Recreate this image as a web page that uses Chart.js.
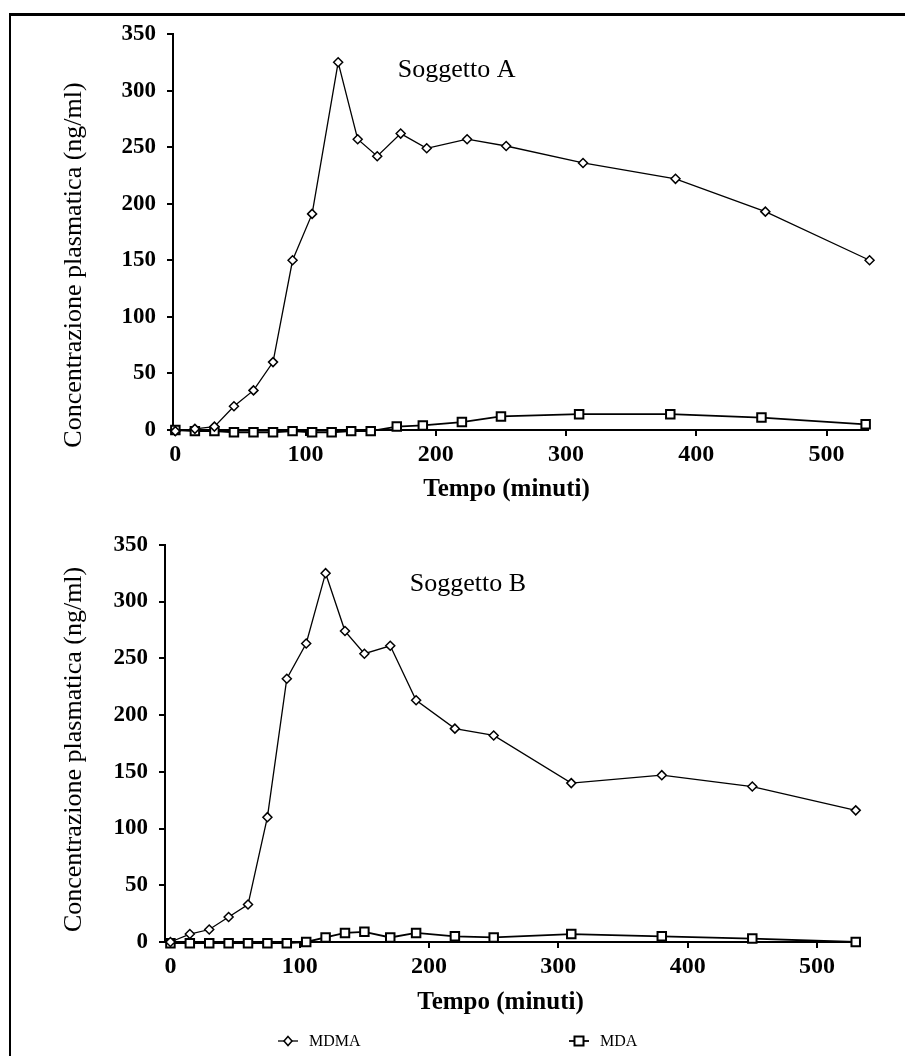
<!DOCTYPE html>
<html>
<head>
<meta charset="utf-8">
<title>Concentrazione plasmatica MDMA / MDA</title>
<script src="https://cdn.jsdelivr.net/npm/chart.js@4.4.1/dist/chart.umd.min.js"></script>
<style>
  body { margin: 0; background: #fff; }
  #wrap { position: relative; width: 905px; height: 1056px; overflow: hidden; background: #fff; }
  #frame { position: absolute; left: 9px; top: 13px; width: 1000px; height: 1100px;
           border-top: 3px solid #000; border-left: 2px solid #000; }
  canvas { position: absolute; left: 0; }
  #chartA { top: 0; }
  #chartB { top: 520px; }
  .leg { position: absolute; top: 1030px; height: 22px; font: 16px "Liberation Serif", serif; color: #000;
         line-height: 22px; white-space: nowrap; }
  .leg svg { position: absolute; top: 4px; left: 0; }
  .leg span { position: absolute; top: 0; left: 32px; }
</style>
</head>
<body>
<div id="wrap">
  <div id="frame"></div>
  <canvas id="chartA" width="905" height="520"></canvas>
  <canvas id="chartB" width="905" height="536"></canvas>
  <div class="leg" style="left:277px">
    <svg width="24" height="14"><line x1="1" y1="7" x2="21" y2="7" stroke="#000" stroke-width="1.3"/>
      <polygon points="11,2.5 15,7 11,11.5 7,7" fill="#fff" stroke="#000" stroke-width="1.5"/></svg>
    <span>MDMA</span>
  </div>
  <div class="leg" style="left:568px">
    <svg width="24" height="14"><line x1="1" y1="7" x2="21" y2="7" stroke="#000" stroke-width="1.8"/>
      <rect x="6.5" y="2.5" width="9" height="9" fill="#fff" stroke="#000" stroke-width="2"/></svg>
    <span>MDA</span>
  </div>
</div>
<script>
// Soggetto A
const tempoA_mdma = [0, 15, 30, 45, 60, 75, 90, 105, 125, 140, 155, 173, 193, 224, 254, 313, 384, 453, 533];
const mdmaA = [-1, 1, 3, 21, 35, 60, 150, 191, 325, 257, 242, 262, 249, 257, 251, 236, 222, 193, 150];
const tempoA_mda = [0, 15, 30, 45, 60, 75, 90, 105, 120, 135, 150, 170, 190, 220, 250, 310, 380, 450, 530];
const mdaA = [0, -1, -1, -2, -2, -2, -1, -2, -2, -1, -1, 3, 4, 7, 12, 14, 14, 11, 5];

// Soggetto B
const tempoB = [0, 15, 30, 45, 60, 75, 90, 105, 120, 135, 150, 170, 190, 220, 250, 310, 380, 450, 530];
const mdmaB = [0, 7, 11, 22, 33, 110, 232, 263, 325, 274, 254, 261, 213, 188, 182, 140, 147, 137, 116];
const mdaB = [-1, -1, -1, -1, -1, -1, -1, 0, 4, 8, 9, 4, 8, 5, 4, 7, 5, 3, 0];

const xTicks = [0, 100, 200, 300, 400, 500];
const yTicks = [0, 50, 100, 150, 200, 250, 300, 350];

const yTitle = 'Concentrazione plasmatica (ng/ml)';
const xTitle = 'Tempo (minuti)';

Chart.defaults.font.family = '"Liberation Serif", serif';
Chart.defaults.color = '#000';

function toXY(xs, ys) {
    return xs.map((x, i) => ({ x: x, y: ys[i] }));
}

// testi dentro al grafico e titoli degli assi
const testi = {
    id: 'testi',
    afterDraw(chart, args, opts) {
        const ctx = chart.ctx;
        const area = chart.chartArea;
        const x = chart.scales.x, y = chart.scales.y;
        ctx.save();
        ctx.fillStyle = '#000';
        ctx.textAlign = 'center';
        ctx.textBaseline = 'middle';
        ctx.font = '26px "Liberation Serif"';
        ctx.fillText(opts.soggetto, x.getPixelForValue(opts.at[0]), y.getPixelForValue(opts.at[1]));

        ctx.font = 'bold 25px "Liberation Serif"';
        ctx.fillText(xTitle, (area.left + area.right) / 2 + opts.xdx, area.bottom + opts.xdy);

        ctx.translate(opts.yx, (area.top + area.bottom) / 2 + opts.ydy);
        ctx.rotate(-Math.PI / 2);
        ctx.font = '26px "Liberation Serif"';
        ctx.fillText(yTitle, 0, 0);
        ctx.restore();
    }
};

function makeChart(id, c) {
    return new Chart(document.getElementById(id), {
        type: 'line',
        data: {
            datasets: [{
                label: 'MDMA',
                data: toXY(c.tMdma, c.mdma),
                borderColor: '#000',
                borderWidth: 1.3,
                pointStyle: 'rectRot',
                pointRadius: 4.5,
                pointBorderWidth: 1.5,
                pointBackgroundColor: '#fff',
                pointBorderColor: '#000',
                clip: false,
            }, {
                label: 'MDA',
                data: toXY(c.tMda, c.mda),
                borderColor: '#000',
                borderWidth: 1.8,
                pointStyle: 'rect',
                pointRadius: 6,
                pointBorderWidth: 2,
                pointBackgroundColor: '#fff',
                pointBorderColor: '#000',
                clip: false,
            }]
        },
        options: {
            responsive: false,
            animation: false,
            layout: { padding: c.padding },
            plugins: {
                legend: { display: false },
                tooltip: { enabled: false },
                testi: c.testi,
            },
            scales: {
                x: {
                    type: 'linear',
                    min: c.xmin,
                    max: c.xmax,
                    afterBuildTicks: s => { s.ticks = xTicks.map(v => ({ value: v })); },
                    afterFit: s => { s.height = c.xHeight; },
                    grid: { drawOnChartArea: false, color: '#000', lineWidth: 2, tickLength: 6 },
                    border: { color: '#000', width: 2 },
                    ticks: { font: { size: 24, weight: 'bold' }, color: '#000', padding: 4, maxRotation: 0 },
                },
                y: {
                    min: 0,
                    max: 350,
                    afterBuildTicks: s => { s.ticks = yTicks.map(v => ({ value: v })); },
                    afterFit: s => { s.width = c.yWidth; },
                    grid: { drawOnChartArea: false, color: '#000', lineWidth: 2, tickLength: 6 },
                    border: { color: '#000', width: 2 },
                    ticks: { font: { size: 23, weight: 'bold' }, color: '#000', padding: 11 },
                }
            }
        },
        plugins: [testi]
    });
}

makeChart('chartA', {
    tMdma: tempoA_mdma, mdma: mdmaA, tMda: tempoA_mda, mda: mdaA,
    xmin: -1.8, xmax: 531.8,
    padding: { left: 0, right: 37, top: 34, bottom: 0 },
    xHeight: 90, yWidth: 173,
    testi: { soggetto: 'Soggetto A', at: [216, 318], xdx: -14, xdy: 60, yx: 74, ydy: 33 },
});

makeChart('chartB', {
    tMdma: tempoB, mdma: mdmaB, tMda: tempoB, mda: mdaB,
    xmin: -4.2, xmax: 533.3,
    padding: { left: 0, right: 45, top: 22, bottom: 0 },
    xHeight: 114, yWidth: 165,
    testi: { soggetto: 'Soggetto B', at: [230, 315], xdx: -12, xdy: 61, yx: 74, ydy: 6 },
});
</script>
</body>
</html>
